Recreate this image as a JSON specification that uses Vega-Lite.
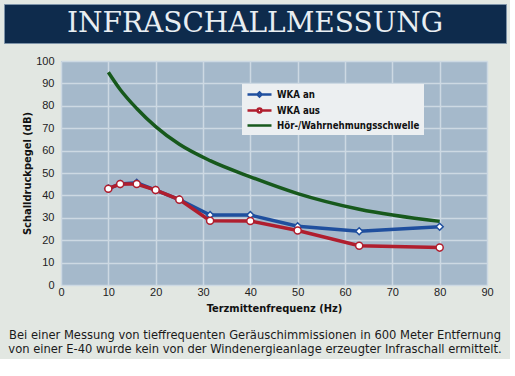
{
  "$schema": "https://vega.github.io/schema/vega-lite/v6.json",
  "background": "#e2e7e2",
  "padding": {"left": 3, "top": 3, "right": 3, "bottom": 3},
  "spacing": 11,
  "title": {
    "text": [
      "Bei einer Messung von tieffrequenten Geräuschimmissionen in 600 Meter Entfernung",
      "von einer E-40 wurde kein von der Windenergieanlage erzeugter Infraschall ermittelt."
    ],
    "orient": "bottom",
    "anchor": "middle",
    "frame": "bounds",
    "font": "'DejaVu Sans Condensed', 'Liberation Sans', sans-serif",
    "fontSize": 12.8,
    "fontWeight": "normal",
    "lineHeight": 14,
    "color": "#1a1a1a",
    "offset": 16
  },
  "config": {
    "view": {"stroke": null},
    "axis": {
      "domain": false,
      "ticks": false,
      "gridColor": "#cdd9e3",
      "gridWidth": 1.5,
      "labelFont": "'Liberation Sans', sans-serif",
      "labelFontSize": 11,
      "labelColor": "#222222",
      "titleFont": "'DejaVu Sans Condensed', 'Liberation Sans', sans-serif",
      "titleFontSize": 11,
      "titleFontWeight": "bold",
      "titleColor": "#111111"
    },
    "legend": {
      "orient": "none",
      "legendX": 238,
      "legendY": 80,
      "fillColor": "#eceff1",
      "padding": 4,
      "labelFont": "'DejaVu Sans Condensed', 'Liberation Sans', sans-serif",
      "labelFontSize": 9.6,
      "labelFontWeight": "bold",
      "labelColor": "#111111",
      "labelLimit": 0,
      "symbolSize": 100,
      "symbolOffset": 7,
      "labelOffset": 11,
      "rowPadding": 1,
      "title": null
    }
  },
  "vconcat": [
    {
      "width": 502,
      "height": 39,
      "view": {"fill": "#0e2b4c", "stroke": "#7d93a8", "strokeWidth": 1},
      "title": {
        "text": "INFRASCHALLMESSUNG",
        "orient": "bottom",
        "anchor": "middle",
        "frame": "group",
        "offset": -33,
        "font": "'DejaVu Serif', serif",
        "fontSize": 28,
        "fontWeight": "normal",
        "color": "#e8eef2"
      },
      "data": {"values": []},
      "mark": "point"
    },
    {
      "spacing": 16,
      "hconcat": [
        {
          "width": 1,
          "height": 1,
          "data": {"values": []},
          "mark": "point"
        },
        {
          "width": 426,
          "height": 224,
          "view": {"fill": "#a5b9cb", "stroke": null},
          "data": {
            "values": [
              {"f": 10, "db": 95, "series": "Hör-/Wahrnehmungsschwelle"},
              {"f": 12.5, "db": 87.3, "series": "Hör-/Wahrnehmungsschwelle"},
              {"f": 16, "db": 78.8, "series": "Hör-/Wahrnehmungsschwelle"},
              {"f": 20, "db": 70.7, "series": "Hör-/Wahrnehmungsschwelle"},
              {"f": 25, "db": 62.8, "series": "Hör-/Wahrnehmungsschwelle"},
              {"f": 31.5, "db": 55.5, "series": "Hör-/Wahrnehmungsschwelle"},
              {"f": 40, "db": 48.3, "series": "Hör-/Wahrnehmungsschwelle"},
              {"f": 50, "db": 40.8, "series": "Hör-/Wahrnehmungsschwelle"},
              {"f": 63, "db": 33.8, "series": "Hör-/Wahrnehmungsschwelle"},
              {"f": 80, "db": 28.4, "series": "Hör-/Wahrnehmungsschwelle"},
              {"f": 10, "db": 43, "series": "WKA an"},
              {"f": 12.5, "db": 45.1, "series": "WKA an"},
              {"f": 16, "db": 45.6, "series": "WKA an"},
              {"f": 20, "db": 42.4, "series": "WKA an"},
              {"f": 25, "db": 38.1, "series": "WKA an"},
              {"f": 31.5, "db": 31.2, "series": "WKA an"},
              {"f": 40, "db": 31.2, "series": "WKA an"},
              {"f": 50, "db": 26.2, "series": "WKA an"},
              {"f": 63, "db": 24, "series": "WKA an"},
              {"f": 80, "db": 26, "series": "WKA an"},
              {"f": 10, "db": 43, "series": "WKA aus"},
              {"f": 12.5, "db": 45.1, "series": "WKA aus"},
              {"f": 16, "db": 45.1, "series": "WKA aus"},
              {"f": 20, "db": 42.4, "series": "WKA aus"},
              {"f": 25, "db": 38.1, "series": "WKA aus"},
              {"f": 31.5, "db": 28.7, "series": "WKA aus"},
              {"f": 40, "db": 28.6, "series": "WKA aus"},
              {"f": 50, "db": 24.3, "series": "WKA aus"},
              {"f": 63, "db": 17.5, "series": "WKA aus"},
              {"f": 80, "db": 16.7, "series": "WKA aus"}
            ]
          },
          "encoding": {
            "x": {
              "field": "f",
              "type": "quantitative",
              "scale": {"domain": [0, 90], "nice": false},
              "axis": {"values": [0, 10, 20, 30, 40, 50, 60, 70, 80, 90], "title": "Terzmittenfrequenz (Hz)", "labelPadding": 1, "titlePadding": 5, "labelFlush": false}
            },
            "y": {
              "field": "db",
              "type": "quantitative",
              "scale": {"domain": [0, 100], "nice": false},
              "axis": {"values": [0, 10, 20, 30, 40, 50, 60, 70, 80, 90, 100], "title": "Schalldruckpegel (dB)", "labelPadding": 7, "titlePadding": 3, "labelFlush": false}
            },
            "color": {
              "field": "series",
              "type": "nominal",
              "sort": null,
              "scale": {
                "domain": ["WKA an", "WKA aus", "Hör-/Wahrnehmungsschwelle"],
                "range": ["#1f4f9e", "#b01e2e", "#17591c"]
              },
              "legend": {
                "encode": {
                  "symbols": {
                    "update": {
                      "shape": {"signal": "datum.value === 'WKA an' ? 'M-2.4,0H-0.4M0.4,0H2.4M0,-0.4L0.4,0L0,0.4L-0.4,0Z' : datum.value === 'WKA aus' ? 'M-2.4,0H-0.38M0.38,0H2.4M-0.38,0A0.38,0.38 0 1,0 0.38,0A0.38,0.38 0 1,0 -0.38,0Z' : 'M-2.4,0H2.4'"},
                      "fill": {"value": "white"},
                      "strokeWidth": {"value": 2.5}
                    }
                  }
                }
              }
            }
          },
          "layer": [
            {
              "transform": [{"filter": "datum.series === 'Hör-/Wahrnehmungsschwelle'"}],
              "mark": {"type": "line", "strokeWidth": 3.5, "interpolate": "monotone"}
            },
            {
              "transform": [{"filter": "datum.series !== 'Hör-/Wahrnehmungsschwelle'"}],
              "mark": {"type": "line", "strokeWidth": 3.5}
            },
            {
              "transform": [{"filter": "datum.series !== 'Hör-/Wahrnehmungsschwelle'"}],
              "mark": {"type": "point", "filled": false, "fill": "white", "fillOpacity": 1, "opacity": 1, "strokeWidth": 1.5, "size": 50},
              "encoding": {
                "color": {"value": null},
                "stroke": {
                  "field": "series",
                  "type": "nominal",
                  "scale": {"domain": ["WKA an", "WKA aus"], "range": ["#1f4f9e", "#b01e2e"]},
                  "legend": null
                },
                "shape": {
                  "field": "series",
                  "type": "nominal",
                  "scale": {"domain": ["WKA an", "WKA aus"], "range": ["diamond", "circle"]},
                  "legend": null
                }
              }
            }
          ]
        }
      ]
    }
  ]
}
